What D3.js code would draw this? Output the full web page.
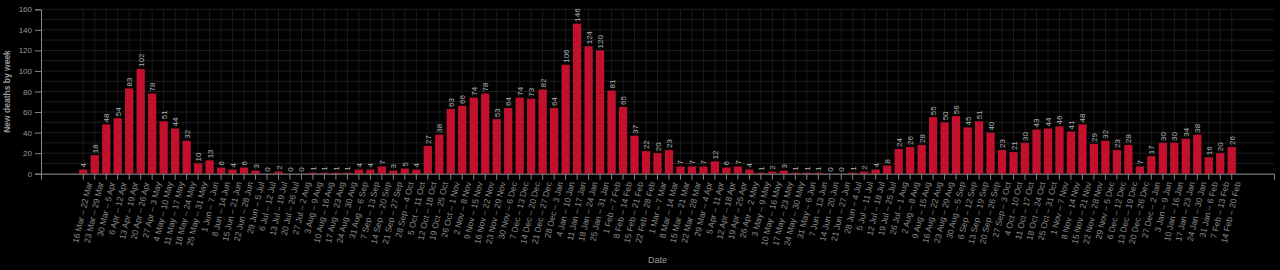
<!DOCTYPE html>
<html>
<head>
<meta charset="utf-8">
<script src="https://cdn.jsdelivr.net/npm/d3@7"></script>
<style>
  html, body { margin: 0; padding: 0; background: #000; }
  svg { display: block; font-family: "Liberation Sans", Arial, sans-serif; }
</style>
</head>
<body>
<div id="chart"></div>
<script>
// week labels (Mon - Sun)
const weeks = [
  "16 Mar – 22 Mar", "23 Mar – 29 Mar", "30 Mar – 5 Apr", "6 Apr – 12 Apr", "13 Apr – 19 Apr",
  "20 Apr – 26 Apr", "27 Apr – 3 May", "4 May – 10 May", "11 May – 17 May", "18 May – 24 May",
  "25 May – 31 May", "1 Jun – 7 Jun", "8 Jun – 14 Jun", "15 Jun – 21 Jun", "22 Jun – 28 Jun",
  "29 Jun – 5 Jul", "6 Jul – 12 Jul", "13 Jul – 19 Jul", "20 Jul – 26 Jul", "27 Jul – 2 Aug",
  "3 Aug – 9 Aug", "10 Aug – 16 Aug", "17 Aug – 23 Aug", "24 Aug – 30 Aug", "31 Aug – 6 Sep",
  "7 Sep – 13 Sep", "14 Sep – 20 Sep", "21 Sep – 27 Sep", "28 Sep – 4 Oct", "5 Oct – 11 Oct",
  "12 Oct – 18 Oct", "19 Oct – 25 Oct", "26 Oct – 1 Nov", "2 Nov – 8 Nov", "9 Nov – 15 Nov",
  "16 Nov – 22 Nov", "23 Nov – 29 Nov", "30 Nov – 6 Dec", "7 Dec – 13 Dec", "14 Dec – 20 Dec",
  "21 Dec – 27 Dec", "28 Dec – 3 Jan", "4 Jan – 10 Jan", "11 Jan – 17 Jan", "18 Jan – 24 Jan",
  "25 Jan – 31 Jan", "1 Feb – 7 Feb", "8 Feb – 14 Feb", "15 Feb – 21 Feb", "22 Feb – 28 Feb",
  "1 Mar – 7 Mar", "8 Mar – 14 Mar", "15 Mar – 21 Mar", "22 Mar – 28 Mar", "29 Mar – 4 Apr",
  "5 Apr – 11 Apr", "12 Apr – 18 Apr", "19 Apr – 25 Apr", "26 Apr – 2 May", "3 May – 9 May",
  "10 May – 16 May", "17 May – 23 May", "24 May – 30 May", "31 May – 6 Jun", "7 Jun – 13 Jun",
  "14 Jun – 20 Jun", "21 Jun – 27 Jun", "28 Jun – 4 Jul", "5 Jul – 11 Jul", "12 Jul – 18 Jul",
  "19 Jul – 25 Jul", "26 Jul – 1 Aug", "2 Aug – 8 Aug", "9 Aug – 15 Aug", "16 Aug – 22 Aug",
  "23 Aug – 29 Aug", "30 Aug – 5 Sep", "6 Sep – 12 Sep", "13 Sep – 19 Sep", "20 Sep – 26 Sep",
  "27 Sep – 3 Oct", "4 Oct – 10 Oct", "11 Oct – 17 Oct", "18 Oct – 24 Oct", "25 Oct – 31 Oct",
  "1 Nov – 7 Nov", "8 Nov – 14 Nov", "15 Nov – 21 Nov", "22 Nov – 28 Nov", "29 Nov – 5 Dec",
  "6 Dec – 12 Dec", "13 Dec – 19 Dec", "20 Dec – 26 Dec", "27 Dec – 2 Jan", "3 Jan – 9 Jan",
  "10 Jan – 16 Jan", "17 Jan – 23 Jan", "24 Jan – 30 Jan", "31 Jan – 6 Feb", "7 Feb – 13 Feb",
  "14 Feb – 20 Feb"
];

// new deaths per week
const deaths = [
  4, 18, 48, 54, 83, 102, 78, 51, 44, 32,
  10, 13, 6, 4, 6, 3, 0, 2, 0, 0,
  1, 1, 1, 1, 4, 4, 7, 3, 5, 4,
  27, 38, 63, 66, 74, 78, 53, 64, 74, 73,
  82, 64, 106, 146, 124, 120, 81, 65, 37, 22,
  20, 23, 7, 7, 7, 12, 6, 7, 4, 1,
  2, 3, 1, 1, 1, 0, 0, 1, 2, 4,
  8, 24, 26, 28, 55, 50, 56, 45, 51, 40,
  23, 21, 30, 43, 44, 46, 41, 48, 29, 32,
  23, 28, 7, 17, 30, 30, 34, 38, 16, 20,
  26
];

const yTicks = [0, 20, 40, 60, 80, 100, 120, 140, 160];
const yGrid = d3.range(0, 161, 10);

const data = weeks.map((w, i) => ({ week: w, value: deaths[i] }));

// layout
const W = 1280, H = 270;
const margin = { top: 9.3, right: 6, bottom: 96.3, left: 41 };
const width = W - margin.left - margin.right;
const height = H - margin.top - margin.bottom;

const svg = d3.select("#chart")
  .append("svg")
  .attr("width", W)
  .attr("height", H);

svg.append("rect").attr("width", W).attr("height", H).attr("fill", "#000");

const g = svg.append("g")
  .attr("transform", `translate(${margin.left},${margin.top})`);

const x = d3.scaleBand()
  .domain(weeks)
  .range([0, width])
  .paddingInner(0.28)
  .paddingOuter(3.32);

const y = d3.scaleLinear()
  .domain([0, 160])
  .range([height, 0]);

// grid lines
g.append("g")
  .selectAll("line")
  .data(yGrid)
  .enter().append("line")
  .attr("x1", 0)
  .attr("x2", width)
  .attr("y1", d => y(d))
  .attr("y2", d => y(d))
  .attr("stroke", "#1e1e1e")
  .attr("stroke-width", 1);

g.append("g")
  .selectAll("line")
  .data(weeks)
  .enter().append("line")
  .attr("x1", d => x(d) + x.bandwidth() / 2)
  .attr("x2", d => x(d) + x.bandwidth() / 2)
  .attr("y1", 0)
  .attr("y2", height)
  .attr("stroke", "#1a1a1a")
  .attr("stroke-width", 1);

// bars
g.selectAll(".bar")
  .data(data)
  .enter().append("rect")
  .attr("class", "bar")
  .attr("x", d => x(d.week))
  .attr("y", d => y(d.value))
  .attr("width", x.bandwidth())
  .attr("height", d => height - y(d.value))
  .attr("fill", "#c2102d");

// value labels above bars
g.selectAll(".val")
  .data(data)
  .enter().append("text")
  .attr("class", "val")
  .attr("transform", d => `translate(${x(d.week) + x.bandwidth() / 2 + 3},${y(d.value) - 2}) rotate(-90)`)
  .attr("fill", "#b0b0b0")
  .attr("font-size", "8px")
  .text(d => d.value);

// x axis
const xAxis = g.append("g")
  .attr("transform", `translate(0,${height})`)
  .call(d3.axisBottom(x));

xAxis.selectAll("text")
  .attr("x", 0)
  .attr("y", 0)
  .attr("dy", 0)
  .attr("transform", "translate(9,9) rotate(-77)")
  .style("text-anchor", "end")
  .attr("fill", "#8a8a8a")
  .attr("font-size", "8.5px");

// y axis
const yAxis = g.append("g")
  .call(d3.axisLeft(y).tickValues(yTicks));

yAxis.selectAll("text")
  .attr("fill", "#999")
  .attr("font-size", "8px");

svg.selectAll(".domain, .tick line").attr("stroke", "#888");

// axis titles
svg.append("text")
  .attr("transform", `translate(10,${margin.top + height / 2}) rotate(-90)`)
  .attr("text-anchor", "middle")
  .attr("fill", "#999")
  .attr("font-size", "8.5px")
  .attr("font-weight", "bold")
  .text("New deaths by week");

svg.append("text")
  .attr("x", margin.left + width / 2)
  .attr("y", 263)
  .attr("text-anchor", "middle")
  .attr("fill", "#999")
  .attr("font-size", "9px")
  .text("Date");
</script>
</body>
</html>
